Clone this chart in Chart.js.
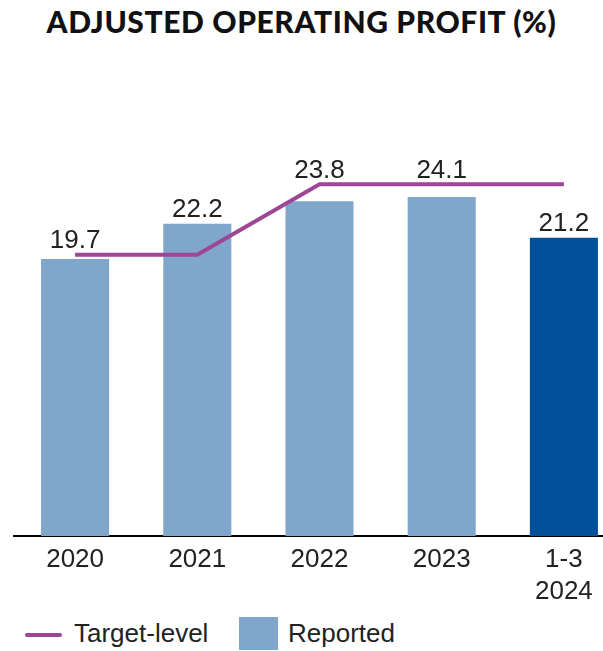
<!DOCTYPE html>
<html>
<head>
<meta charset="utf-8">
<script src="https://cdn.jsdelivr.net/npm/chart.js@4.4.0/dist/chart.umd.min.js"></script>
<style>
  html, body { margin: 0; padding: 0; background: #fff; overflow: hidden; }
  #wrap { position: relative; width: 603px; height: 651px; overflow: hidden; }
  #title {
    position: absolute; left: 0; top: 3px; width: 603px; text-align: center;
    font-family: "Lato", sans-serif; font-weight: 900; font-size: 30px; color: #111;
    letter-spacing: 0.6px;
  }
  #chartBox { position: absolute; left: 0; top: 0; width: 640px; height: 610px; }
  #legend {
    position: absolute; left: 0; top: 615px; height: 36px;
    font-family: "Liberation Sans", sans-serif; font-size: 26px; color: #222;
  }
  .lg-item { position: absolute; top: 0; white-space: nowrap; line-height: 36px; }
  .lg-line { position: absolute; left: 25px; top: 18px; width: 37px; height: 4px; background: #9c4695; border-radius: 2px; }
  .lg-box { position: absolute; left: 239px; top: 2px; width: 39px; height: 33px; background: #80a7cb; }
</style>
</head>
<body>
<div id="wrap">
  <div id="title">ADJUSTED OPERATING PROFIT (%)</div>
  <div id="chartBox"><canvas id="profitChart" width="640" height="610"></canvas></div>
  <div id="legend">
    <div class="lg-line"></div>
    <div class="lg-item" style="left:74px">Target-level</div>
    <div class="lg-box"></div>
    <div class="lg-item" style="left:288px">Reported</div>
  </div>
</div>
<script>
// data
const periods = [['2020'], ['2021'], ['2022'], ['2023'], ['1-3', '2024']];
const reported = [19.7, 22.2, 23.8, 24.1, 21.2];
const targetLevel = [20, 20, 25, 25, 25];

const barColors = ['#80a7cb', '#80a7cb', '#80a7cb', '#80a7cb', '#00509c'];

// value labels: above the bar, or above the target line when it sits just over the bar
const valueLabels = {
    id: 'valueLabels',
    afterDatasetsDraw(chart) {
        const ctx = chart.ctx;
        const bars = chart.getDatasetMeta(1).data;
        const pts = chart.getDatasetMeta(0).data;
        ctx.save();
        ctx.font = '26px "Liberation Sans", sans-serif';
        ctx.fillStyle = '#222';
        ctx.textAlign = 'center';
        ctx.textBaseline = 'bottom';
        bars.forEach((bar, i) => {
            let top = bar.y;
            const gap = bar.y - pts[i].y;
            if (gap >= 0 && gap < 30) top = pts[i].y;
            ctx.fillText(reported[i].toFixed(1), bar.x, top - 1);
        });
        ctx.restore();
    }
};

const ctx = document.getElementById('profitChart').getContext('2d');
new Chart(ctx, {
    type: 'bar',
    data: {
        labels: periods,
        datasets: [
            {
                type: 'line',
                label: 'Target-level',
                data: targetLevel,
                borderColor: '#9c4695',
                borderWidth: 4,
                pointRadius: 0,
                tension: 0,
                order: 0,
            },
            {
                label: 'Reported',
                data: reported,
                backgroundColor: barColors,
                categoryPercentage: 1,
                barPercentage: 0.557,
                order: 1,
            },
        ],
    },
    options: {
        responsive: false,
        animation: false,
        layout: { padding: { top: 114, left: 14, right: 15, bottom: 0 } },
        plugins: {
            legend: { display: false },
            tooltip: { enabled: false },
        },
        scales: {
            x: {
                grid: { display: false },
                border: { display: true, color: '#000', width: 2 },
                ticks: {
                    color: '#222',
                    font: { family: '"Liberation Sans", sans-serif', size: 26, lineHeight: 1.23 },
                    padding: 0,
                    maxRotation: 0,
                    autoSkip: false,
                },
                afterFit(scale) { scale.height = 74; },
            },
            y: {
                display: false,
                min: 0,
                max: 30,
            },
        },
    },
    plugins: [valueLabels],
});
</script>
</body>
</html>
